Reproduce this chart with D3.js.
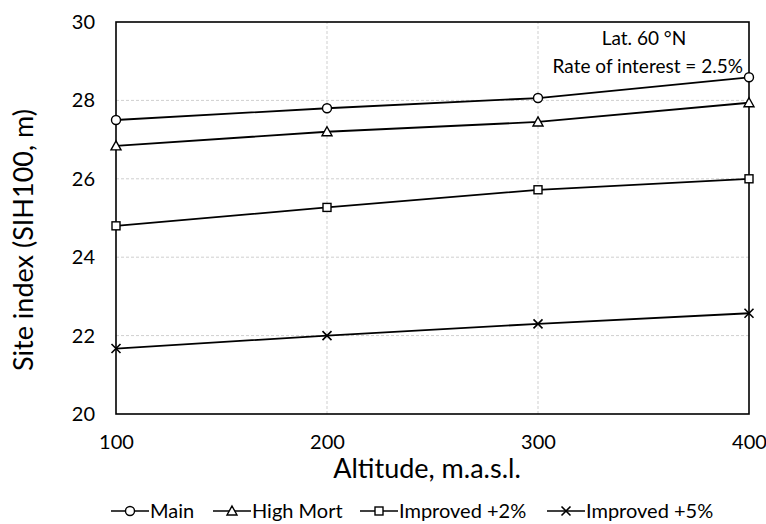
<!DOCTYPE html>
<html>
<head>
<meta charset="utf-8">
<script src="https://cdn.jsdelivr.net/npm/d3@7"></script>
<style>
  body { margin: 0; background: #fff; }
  text { font-family: Lato, "Open Sans", sans-serif; fill: #000; }
</style>
</head>
<body>
<div id="chart"></div>
<script>
// Data
const altitudes = [100, 200, 300, 400];
const seriesNames = ["Main", "High Mort", "Improved +2%", "Improved +5%"];
const mainValues = [27.5, 27.8, 28.06, 28.59];
const highMortValues = [26.84, 27.2, 27.45, 27.94];
const improved2Values = [24.8, 25.27, 25.72, 26.0];
const improved5Values = [21.67, 22.0, 22.3, 22.57];
const yTicks = [20, 22, 24, 26, 28, 30];
const xTicks = [100, 200, 300, 400];
const markerTypes = ["circle", "triangle", "square", "cross"];

const WIDTH = 766;
const HEIGHT = 524;
const MARGIN = { left: 116, right: 17, top: 22, bottom: 110 };

const svg = d3.select("#chart")
  .append("svg")
  .attr("width", WIDTH)
  .attr("height", HEIGHT);

const x = d3.scaleLinear()
  .domain([100, 400])
  .range([MARGIN.left, WIDTH - MARGIN.right]);

const y = d3.scaleLinear()
  .domain([20, 30])
  .range([HEIGHT - MARGIN.bottom, MARGIN.top]);

// Gridlines (dashed, light)
svg.append("g")
  .selectAll("line")
  .data(yTicks.slice(1, -1))
  .enter().append("line")
  .attr("x1", x(100)).attr("x2", x(400))
  .attr("y1", d => y(d)).attr("y2", d => y(d))
  .attr("stroke", "#cfcfcf").attr("stroke-width", 1)
  .attr("stroke-dasharray", "3,2");

svg.append("g")
  .selectAll("line")
  .data(xTicks.slice(1, -1))
  .enter().append("line")
  .attr("x1", d => x(d)).attr("x2", d => x(d))
  .attr("y1", y(20)).attr("y2", y(30))
  .attr("stroke", "#cfcfcf").attr("stroke-width", 1)
  .attr("stroke-dasharray", "3,2");

// Frame
svg.append("rect")
  .attr("x", x(100)).attr("y", y(30))
  .attr("width", x(400) - x(100)).attr("height", y(20) - y(30))
  .attr("fill", "none").attr("stroke", "#000").attr("stroke-width", 1.6);

// Axes (labels only)
const yAxis = svg.append("g")
  .attr("transform", "translate(" + x(100) + ",0)")
  .call(d3.axisLeft(y).tickValues(yTicks).tickSize(0).tickPadding(21));
yAxis.select(".domain").remove();
yAxis.selectAll("text").style("font-size", "20px").style("font-family", "Lato, sans-serif");

const xAxis = svg.append("g")
  .attr("transform", "translate(0," + y(20) + ")")
  .call(d3.axisBottom(x).tickValues(xTicks).tickSize(0).tickPadding(21));
xAxis.select(".domain").remove();
xAxis.selectAll("text").style("font-size", "20px").style("font-family", "Lato, sans-serif");

// Axis titles
svg.append("text")
  .attr("x", 427)
  .attr("y", 478)
  .attr("text-anchor", "middle")
  .style("font-size", "27px")
  .text("Altitude, m.a.s.l.");

svg.append("text")
  .attr("transform", "translate(33,240) rotate(-90)")
  .attr("text-anchor", "middle")
  .style("font-size", "27px")
  .text("Site index (SIH100, m)");

// Annotation
svg.append("text")
  .attr("x", 644).attr("y", 45)
  .attr("text-anchor", "middle")
  .style("font-size", "19px")
  .text("Lat. 60 °N");
svg.append("text")
  .attr("x", 743).attr("y", 73)
  .attr("text-anchor", "end")
  .style("font-size", "19px")
  .text("Rate of interest = 2.5%");

// Markers
function drawMarker(g, type, cx, cy) {
  if (type === "circle") {
    g.append("circle").attr("cx", cx).attr("cy", cy).attr("r", 4.5)
      .attr("fill", "#fff").attr("stroke", "#000").attr("stroke-width", 1.4);
  } else if (type === "triangle") {
    g.append("path")
      .attr("d", `M${cx},${cy - 5} L${cx + 5},${cy + 4} L${cx - 5},${cy + 4} Z`)
      .attr("fill", "#fff").attr("stroke", "#000").attr("stroke-width", 1.4);
  } else if (type === "square") {
    g.append("rect").attr("x", cx - 4).attr("y", cy - 4).attr("width", 8).attr("height", 8)
      .attr("fill", "#fff").attr("stroke", "#000").attr("stroke-width", 1.4);
  } else {
    g.append("path")
      .attr("d", `M${cx - 4.5},${cy - 4.5} L${cx + 4.5},${cy + 4.5} M${cx - 4.5},${cy + 4.5} L${cx + 4.5},${cy - 4.5}`)
      .attr("fill", "none").attr("stroke", "#000").attr("stroke-width", 1.6);
  }
}

const allSeries = [mainValues, highMortValues, improved2Values, improved5Values];
const line = d3.line()
  .x((d, i) => x(altitudes[i]))
  .y(d => y(d));

allSeries.forEach((vals, s) => {
  const g = svg.append("g");
  g.append("path")
    .datum(vals)
    .attr("d", line)
    .attr("fill", "none")
    .attr("stroke", "#000")
    .attr("stroke-width", 1.8);
  vals.forEach((v, i) => drawMarker(g, markerTypes[s], x(altitudes[i]), y(v)));
});

// Legend
const legendX = [111, 213, 360, 547];
const legendY = 511;
seriesNames.forEach((name, s) => {
  const g = svg.append("g");
  const lx = legendX[s];
  g.append("line")
    .attr("x1", lx).attr("x2", lx + 38)
    .attr("y1", legendY).attr("y2", legendY)
    .attr("stroke", "#000").attr("stroke-width", 1.6);
  drawMarker(g, markerTypes[s], lx + 19, legendY);
  g.append("text")
    .attr("x", lx + 39).attr("y", legendY + 7)
    .style("font-size", "20px")
    .text(name);
});
</script>
</body>
</html>
